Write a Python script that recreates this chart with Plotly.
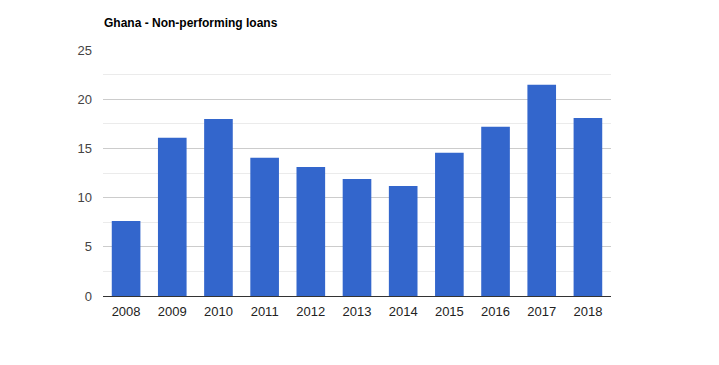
import plotly.graph_objects as go

years = ["2008", "2009", "2010", "2011", "2012", "2013", "2014", "2015", "2016", "2017", "2018"]
npl = [7.63, 16.07, 18.0, 14.04, 13.12, 11.9, 11.19, 14.55, 17.19, 21.46, 18.1]
y_ticks = [0, 5, 10, 15, 20, 25]

fig = go.Figure(go.Bar(x=years, y=npl, marker=dict(color="#3366cc", line=dict(width=0)),
                       hoverinfo="x+y"))

# the page body adds an 8px margin, so offsets below are shifted by -8
fig.update_layout(
    width=719, height=365,
    margin=dict(l=95, r=116, t=42, b=77),
    paper_bgcolor="white", plot_bgcolor="white",
    bargap=0.38,
    showlegend=False,
    font=dict(family="Liberation Sans, Arial, sans-serif", size=13, color="#444"),
    title=dict(text="<b>Ghana - Non-performing loans</b>", xref="container", yref="container",
               x=96/719, xanchor="left", y=1-14.5/365, yanchor="middle",
               font=dict(family="Liberation Sans, Arial, sans-serif", size=12, color="#000")),
)
fig.update_xaxes(type="category", showgrid=False, showline=True, linecolor="#333", linewidth=1,
                 ticks="", tickfont=dict(color="#222", size=13), ticklabelstandoff=3)
fig.update_yaxes(range=[0, 25], tickvals=y_ticks, showgrid=True, gridcolor="#cccccc", gridwidth=1,
                 zeroline=False, showline=False, ticks="", tickfont=dict(color="#444", size=13),
                 ticklabelstandoff=10,
                 minor=dict(dtick=2.5, tick0=0, showgrid=True, gridcolor="#ebebeb", gridwidth=1))

fig.write_html("out.html")
